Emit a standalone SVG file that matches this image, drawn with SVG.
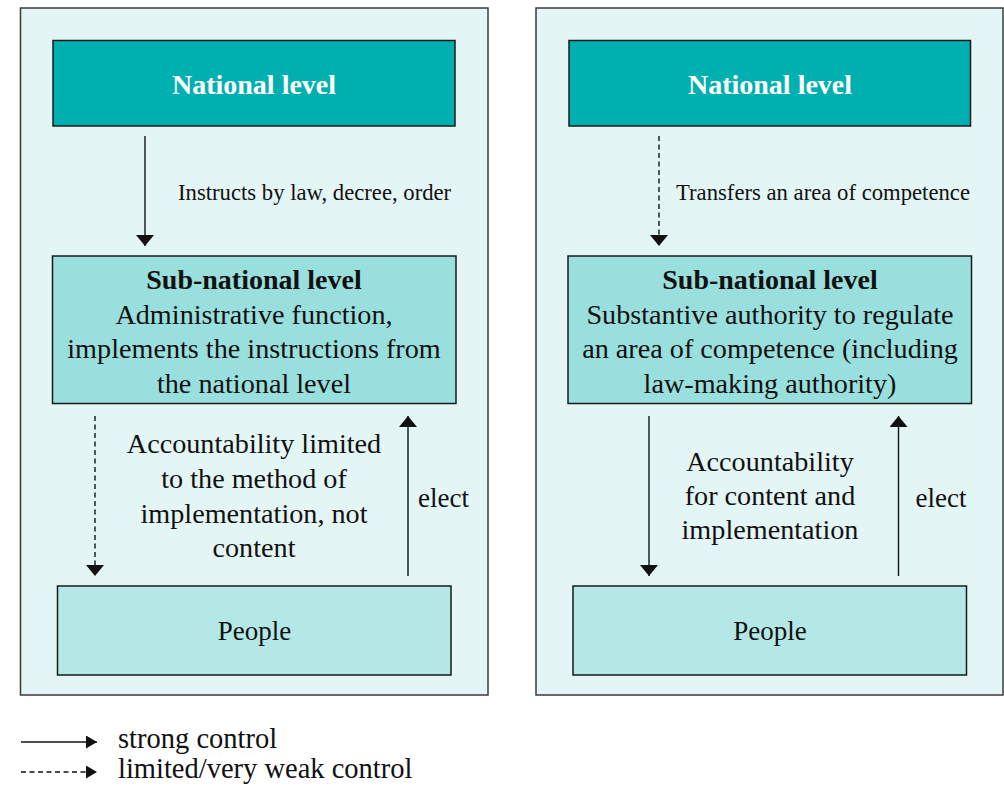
<svg xmlns="http://www.w3.org/2000/svg" width="1004" height="786" viewBox="0 0 1004 786">
<defs>
<style>
.panel{fill:#E3F5F5;stroke:#3a3a3a;stroke-width:1.5}
.nat{fill:#00B0B0;stroke:#1a1a1a;stroke-width:1.5}
.sub{fill:#99DFDD;stroke:#1a1a1a;stroke-width:1.5}
.ppl{fill:#B3E8E6;stroke:#1a1a1a;stroke-width:1.5}
text{fill:#111}
.t{font-size:28.2px;text-anchor:middle}
.p{font-size:27px;text-anchor:middle}
.b{font-size:28px;font-weight:bold;text-anchor:middle}
.w{fill:#fff}
.s{font-size:22.7px}
.lg{font-size:28.5px}
.ln{stroke:#111;stroke-width:1.4;fill:none}
.dash{stroke-dasharray:5,3.5}
</style>
<marker id="ah" markerUnits="userSpaceOnUse" markerWidth="11" markerHeight="18" viewBox="0 0 11 18" refX="11" refY="9" orient="auto">
<path d="M0,0 L11,9 L0,18 Z" fill="#111"/>
</marker>
<marker id="lah" markerUnits="userSpaceOnUse" markerWidth="11" markerHeight="13" viewBox="0 0 11 13" refX="11" refY="6.5" orient="auto">
<path d="M0,0 L11,6.5 L0,13 Z" fill="#111"/>
</marker>
</defs>
<g font-family="Liberation Serif, Tinos, DejaVu Serif, serif">
<rect class="panel" x="20.5" y="8" width="467.5" height="687"/>
<rect class="panel" x="536" y="8" width="467" height="687"/>

<g id="left-national">
<rect class="nat" x="53" y="40.5" width="402" height="85.5"/>
<text class="b w" x="254" y="94">National level</text>
</g>
<g id="left-subnational">
<rect class="sub" x="52.5" y="256" width="403.5" height="147.5"/>
<text class="b" x="254" y="289">Sub-national level</text>
<text class="t" x="254" y="324">Administrative function,</text>
<text class="t" x="254" y="358">implements the instructions from</text>
<text class="t" x="254" y="393">the national level</text>
</g>
<g id="left-people">
<rect class="ppl" x="57.5" y="586" width="393.5" height="89"/>
<text class="p" x="254.5" y="640">People</text>
</g>

<g id="right-national">
<rect class="nat" x="569" y="40.5" width="401.5" height="85.5"/>
<text class="b w" x="770" y="94">National level</text>
</g>
<g id="right-subnational">
<rect class="sub" x="568" y="256" width="403.5" height="147.5"/>
<text class="b" x="770" y="289">Sub-national level</text>
<text class="t" x="770" y="324">Substantive authority to regulate</text>
<text class="t" x="770" y="358">an area of competence (including</text>
<text class="t" x="770" y="393">law-making authority)</text>
</g>
<g id="right-people">
<rect class="ppl" x="573" y="586" width="393.5" height="89"/>
<text class="p" x="770" y="640">People</text>
</g>

<g id="connectors">
<line class="ln" x1="145" y1="136" x2="145" y2="246" marker-end="url(#ah)"/>
<text class="s" x="178" y="200">Instructs by law, decree, order</text>
<line class="ln dash" x1="95" y1="416" x2="95" y2="576" marker-end="url(#ah)"/>
<line class="ln" x1="408" y1="576" x2="408" y2="416" marker-end="url(#ah)"/>
<text class="t" x="254" y="453">Accountability limited</text>
<text class="t" x="254" y="488">to the method of</text>
<text class="t" x="254" y="523">implementation, not</text>
<text class="t" x="254" y="557">content</text>
<text class="p" x="443.5" y="507">elect</text>

<line class="ln dash" x1="659" y1="136" x2="659" y2="246" marker-end="url(#ah)"/>
<text class="s" x="676" y="200">Transfers an area of competence</text>
<line class="ln" x1="649" y1="416" x2="649" y2="576" marker-end="url(#ah)"/>
<line class="ln" x1="898.5" y1="576" x2="898.5" y2="416" marker-end="url(#ah)"/>
<text class="t" x="770" y="471">Accountability</text>
<text class="t" x="770" y="505">for content and</text>
<text class="t" x="770" y="539">implementation</text>
<text class="p" x="941" y="507">elect</text>
</g>

<g id="legend">
<line class="ln" x1="21" y1="742" x2="97" y2="742" marker-end="url(#lah)"/>
<text class="lg" x="118" y="748">strong control</text>
<line class="ln dash" x1="21" y1="772" x2="97" y2="772" marker-end="url(#lah)"/>
<text class="lg" x="118" y="778">limited/very weak control</text>
</g>
</g>
</svg>
